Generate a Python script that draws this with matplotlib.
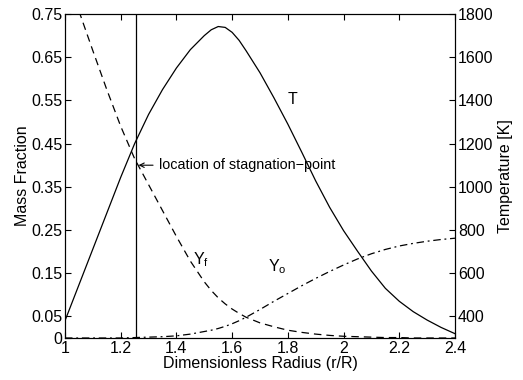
import matplotlib
matplotlib.use("Agg")
import matplotlib.pyplot as plt

plt.rcParams['font.family'] = ['Liberation Sans', 'DejaVu Sans']

x = [1.0, 1.05, 1.1, 1.15, 1.2, 1.25, 1.3, 1.35, 1.4, 1.45, 1.5, 1.525, 1.55,
     1.575, 1.6, 1.625, 1.65, 1.7, 1.75, 1.8, 1.85, 1.9, 1.95, 2.0, 2.05,
     2.1, 2.15, 2.2, 2.25, 2.3, 2.35, 2.4]
T = [380, 546, 712, 878, 1044, 1200, 1335, 1450, 1550, 1635, 1700, 1727, 1742,
     1738, 1715, 1678, 1630, 1528, 1412, 1290, 1160, 1027, 905, 797, 702,
     610, 530, 470, 422, 383, 349, 320]
Yf = [0.86, 0.757, 0.665, 0.575, 0.49, 0.415, 0.355, 0.295, 0.235, 0.178, 0.130,
      0.110, 0.093, 0.079, 0.067, 0.057, 0.048, 0.035, 0.026, 0.018, 0.013,
      0.009, 0.006, 0.004, 0.003, 0.002, 0.001, 0.001, 0.0, 0.0, 0.0, 0.0]
Yo = [0.0, 0.0, 0.0, 0.0, 0.0, 0.001, 0.002, 0.003, 0.005, 0.009, 0.015,
      0.018, 0.022, 0.027, 0.033, 0.040, 0.048, 0.066, 0.085, 0.103, 0.121,
      0.138, 0.154, 0.169, 0.183, 0.195, 0.205, 0.213, 0.219, 0.224, 0.228,
      0.231]
x_stag = 1.256

left_ticks = [0, 0.05, 0.15, 0.25, 0.35, 0.45, 0.55, 0.65, 0.75]
left_labels = ['0', '0.05', '0.15', '0.25', '0.35', '0.45', '0.55', '0.65', '0.75']
right_ticks = [400, 600, 800, 1000, 1200, 1400, 1600, 1800]
x_ticks = [1, 1.2, 1.4, 1.6, 1.8, 2, 2.2, 2.4]
x_labels = ['1', '1.2', '1.4', '1.6', '1.8', '2', '2.2', '2.4']

fig = plt.figure(figsize=(5.23, 3.80), dpi=100)
ax = fig.add_axes([65/523, 1-338/380, 390/523, 324/380])
ax2 = ax.twinx()

lw = 0.9
ax.plot(x, Yf, color='black', lw=lw, ls=(0, (6, 4)))
ax.plot(x, Yo, color='black', lw=lw, ls=(0, (6, 3, 1.5, 3)))
ax.plot([x_stag, x_stag], [0, 0.75], color='black', lw=lw)
ax2.plot(x, T, color='black', lw=lw)

ax.set_xlim(1, 2.4)
ax.set_ylim(0, 0.75)
ax2.set_ylim(300, 1800)

ax.set_xticks(x_ticks)
ax.set_xticklabels(x_labels)
ax.set_yticks(left_ticks)
ax.set_yticklabels(left_labels)
ax2.set_yticks(right_ticks)

fs = 11.5
ax.tick_params(axis='both', direction='in', labelsize=fs, length=4, width=0.8,
               top=True, pad=2)
ax.tick_params(axis='y', right=False)
ax2.tick_params(axis='y', direction='in', labelsize=fs, length=4, width=0.8, pad=2)

ax.set_xlabel('Dimensionless Radius (r/R)', fontsize=fs, labelpad=0)
ax.set_ylabel('Mass Fraction', fontsize=fs, labelpad=1)
ax2.set_ylabel('Temperature [K]', fontsize=fs, labelpad=3)

for a in (ax, ax2):
    for s in a.spines.values():
        s.set_linewidth(0.8)

ax.text(1.818, 0.551, 'T', fontsize=fs, ha='center', va='center')
ax.text(1.488, 0.182, r'Y$_\mathregular{f}$', fontsize=fs, ha='center', va='center')
ax.text(1.762, 0.166, r'Y$_\mathregular{o}$', fontsize=fs, ha='center', va='center')
ax.annotate('location of stagnation\u2212point', xy=(1.264, 0.40),
            xytext=(1.336, 0.40), fontsize=10.4, ha='left', va='center',
            arrowprops=dict(arrowstyle='->', color='black', lw=0.8,
                            shrinkA=2, shrinkB=0,
                            mutation_scale=8))

fig.savefig('out.png', dpi=100)
